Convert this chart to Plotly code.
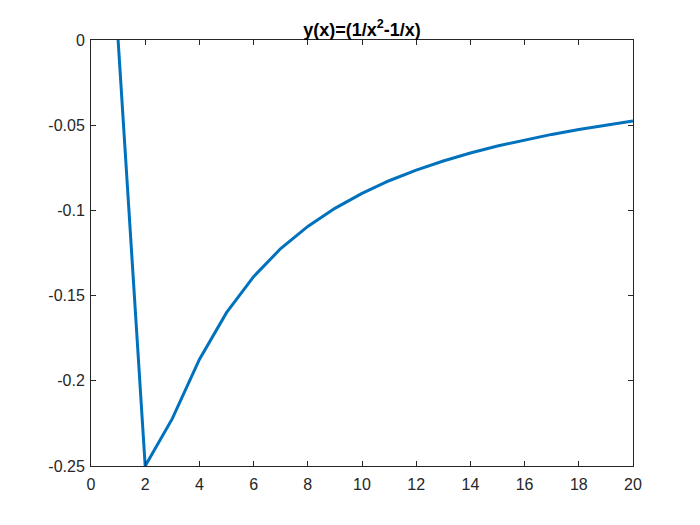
import plotly.graph_objects as go

x_vals = list(range(1, 21))
y_vals = [0.0, -0.25, -0.2222, -0.1875, -0.16, -0.1389, -0.1224, -0.1094, -0.0988, -0.09,
          -0.0826, -0.0764, -0.0710, -0.0663, -0.0622, -0.0586, -0.0554, -0.0525, -0.0499, -0.0475]
x_ticks = list(range(0, 21, 2))
y_ticks = [0, -0.05, -0.1, -0.15, -0.2, -0.25]
y_tick_labels = ["0", "-0.05", "-0.1", "-0.15", "-0.2", "-0.25"]

fig = go.Figure()
fig.add_trace(go.Scatter(x=x_vals, y=y_vals, mode="lines",
                         line=dict(color="#0072BD", width=3), cliponaxis=True))

axis_common = dict(showline=True, linecolor="#262626", linewidth=1, mirror="ticks",
                   ticks="inside", ticklen=5, tickcolor="#262626", showgrid=False,
                   zeroline=False, tickfont=dict(family="Liberation Sans, Arial", size=16, color="#262626"))

fig.update_xaxes(range=[0, 20], tickvals=x_ticks, ticklabelstandoff=4, **axis_common)
fig.update_yaxes(range=[-0.25, 0], tickvals=y_ticks, ticktext=y_tick_labels, ticklabelstandoff=2, **axis_common)

fig.update_layout(
    width=700, height=525,
    margin=dict(l=83, r=75, t=32, b=67),
    paper_bgcolor="white", plot_bgcolor="white",
    showlegend=False,
    title=dict(text="<b>y(x)=(1/x<sup>2</sup>-1/x)</b>", x=0.5, xref="paper",
               y=1, yref="paper", yanchor="bottom", pad=dict(b=4),
               font=dict(family="Liberation Sans, Arial", size=18, color="black")),
)

fig.write_html("out.html")
